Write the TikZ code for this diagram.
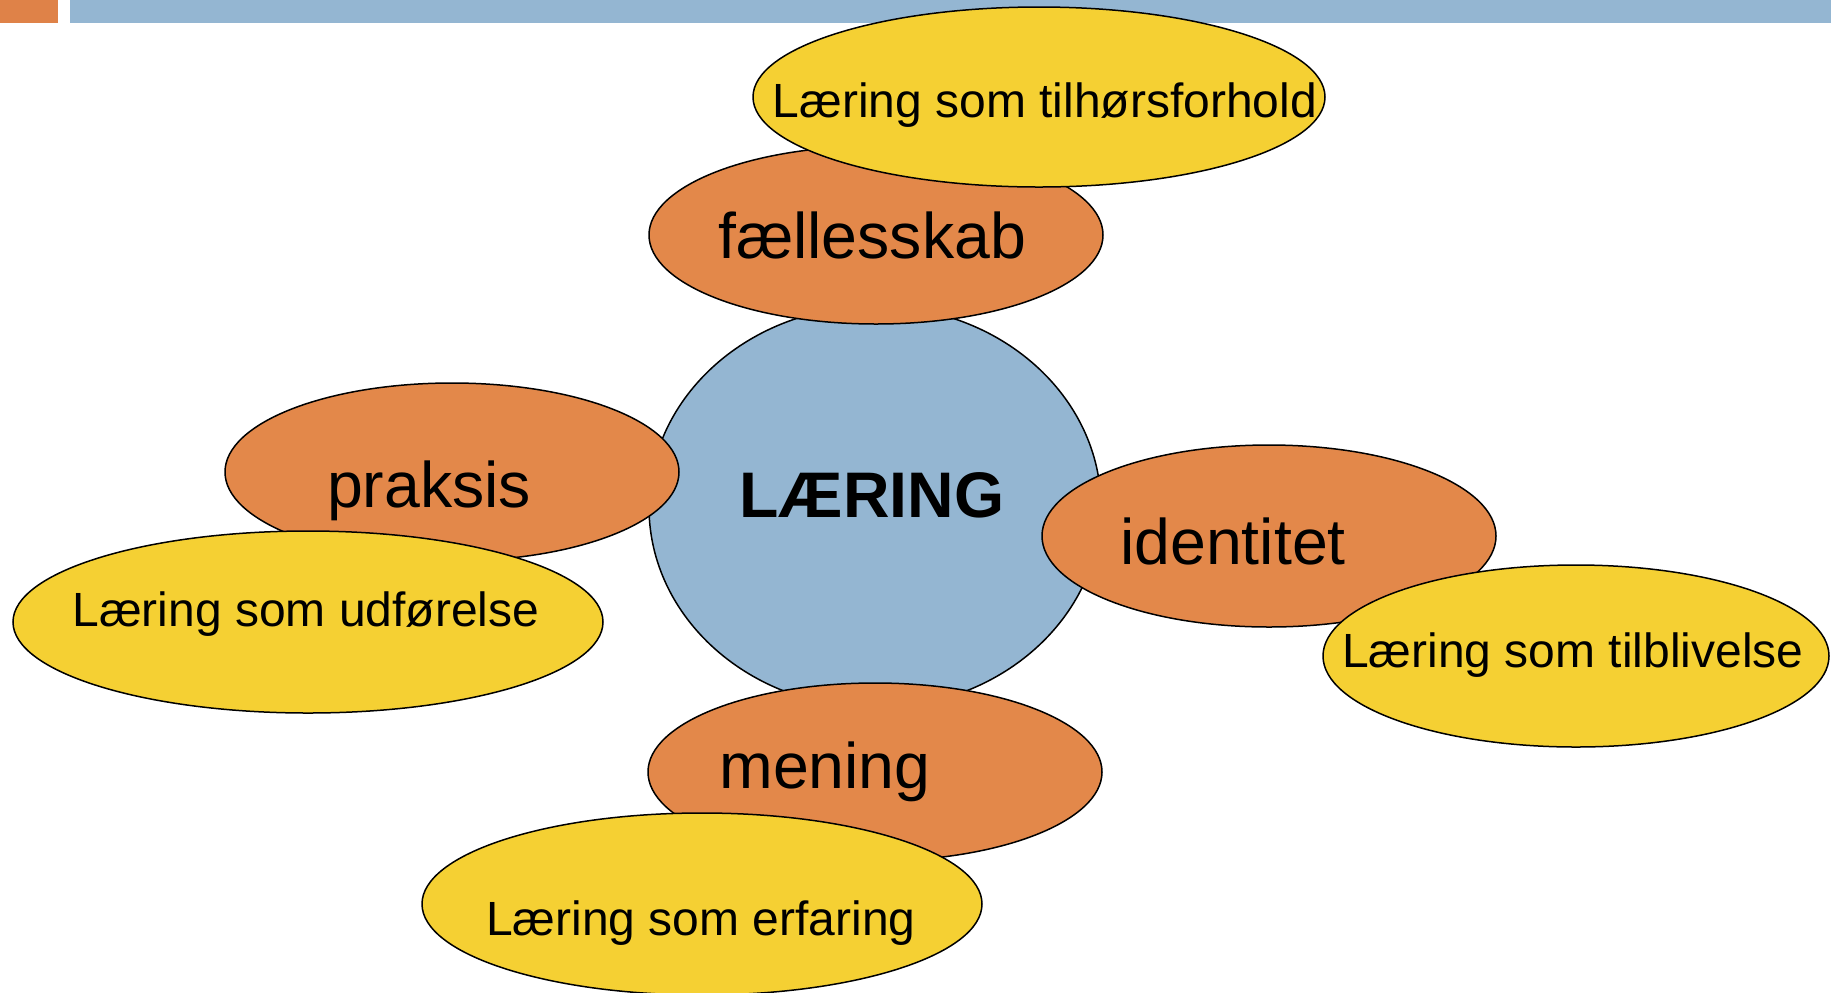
\documentclass[tikz,border=0pt]{standalone}
\usepackage{fontspec}
\setmainfont{Liberation Sans}
\usetikzlibrary{shapes.geometric}
\definecolor{orng}{HTML}{E3884A}
\definecolor{barorng}{HTML}{DF8248}
\definecolor{blu}{HTML}{94B6D2}
\definecolor{yel}{HTML}{F5D033}
\begin{document}
\begin{tikzpicture}[x=0.5pt,y=-0.5pt,
  blob/.style={ellipse, draw=black, line width=0.75pt, inner sep=0pt, outer sep=0pt},
  orblob/.style={blob, fill=orng, minimum width=227pt, minimum height=89pt},
  yelblob/.style={blob, fill=yel, minimum height=91pt},
  bigtxt/.style={anchor=base, inner sep=0pt, font=\fontsize{32.2}{37}\selectfont},
  smalltxt/.style={anchor=base, inner sep=0pt, font=\fontsize{24}{29}\selectfont}]
\useasboundingbox (0,0) rectangle (1831,992);
\clip (0,0) rectangle (1831,992);
\fill[barorng] (0,0) rectangle (58,23);
\fill[blu] (70,0) rectangle (1831,23);
% centre
\node[blob, fill=blu, minimum width=226pt, minimum height=201pt] (center) at (875,507) {};
% orange
\node[orblob] (fell) at (876,235) {};
\node[orblob] (prak) at (452,472) {};
\node[orblob, minimum height=91pt] (iden) at (1269,536) {};
\node[orblob] (men) at (875,772) {};
% yellow
\node[yelblob, minimum width=286pt, minimum height=90pt] (tilh) at (1039,97) {};
\node[yelblob, minimum width=295pt] (udf) at (308,622) {};
\node[yelblob, minimum width=253pt] (tilb) at (1576,656) {};
\node[yelblob, minimum width=280pt] (erf) at (702,904) {};
% texts
\node[bigtxt, font=\fontsize{32.2}{37}\selectfont\bfseries] (tcenter) at (872,517) {LÆRING};
\node[bigtxt] (tfell) at (872,258) {fællesskab};
\node[bigtxt] (tprak) at (429,507) {praksis};
\node[bigtxt] (tiden) at (1233,564) {identitet};
\node[bigtxt] (tmen) at (825,788) {mening};
\node[smalltxt] (ttilh) at (1045,117) {Læring som tilhørsforhold};
\node[smalltxt] (tudf) at (306,626) {Læring som udførelse};
\node[smalltxt] (ttilb) at (1573,667) {Læring som tilblivelse};
\node[smalltxt] (terf) at (701,935) {Læring som erfaring};
\end{tikzpicture}
\end{document}
